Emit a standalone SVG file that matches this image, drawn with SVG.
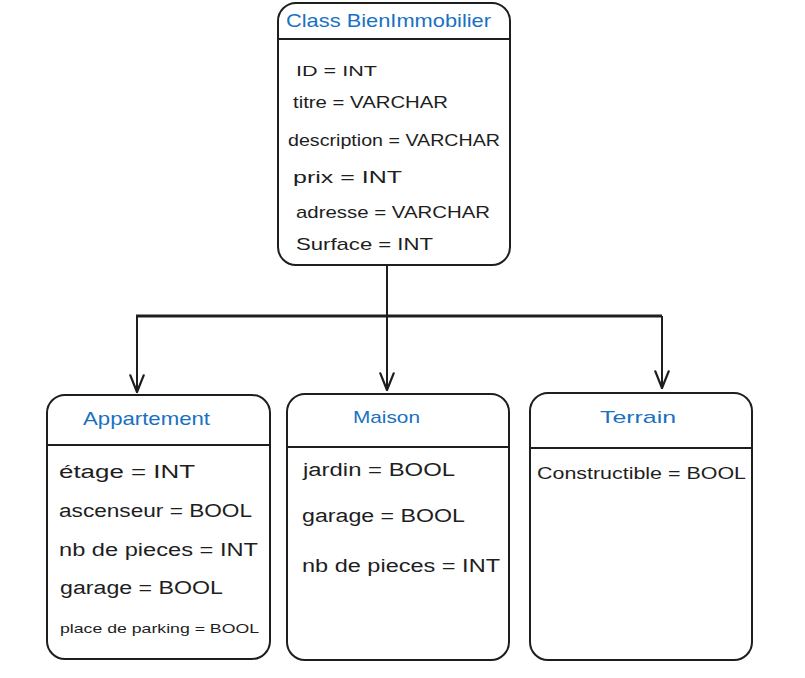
<svg xmlns="http://www.w3.org/2000/svg" width="805" height="678" viewBox="0 0 805 678">
<defs>
<style>
.box{fill:#ffffff;stroke:#1e1e1e;stroke-width:2}
.div{stroke:#1e1e1e;stroke-width:2}
.title{font-family:"Liberation Sans",Arial,sans-serif;fill:#1971c2;font-size:19px}
.attr{font-family:"Liberation Sans",Arial,sans-serif;fill:#1e1e1e;font-size:17px}
.conn{fill:none;stroke:#1e1e1e;stroke-width:2}
</style>
<marker id="arrow" markerWidth="20" markerHeight="20" viewBox="-16 -8 18 16" refX="0" refY="0" orient="auto" markerUnits="userSpaceOnUse">
<path d="M-15,-6 L0,0 L-15,6" fill="none" stroke="#1e1e1e" stroke-width="2" stroke-linecap="round" stroke-linejoin="round"/>
</marker>
</defs>
<rect width="805" height="678" fill="#ffffff"/>
<g id="connectors">
<path class="conn" d="M387,266 V390" marker-end="url(#arrow)"/>
<path class="conn" d="M136,316 H662" style="stroke-width:3"/>
<path class="conn" d="M137,316 V392" marker-end="url(#arrow)"/>
<path class="conn" d="M662,316 V388" marker-end="url(#arrow)"/>
</g>
<g id="BienImmobilier">
<rect class="box" x="278" y="3" width="232" height="262" rx="18"/>
<line class="div" x1="278" y1="39" x2="510" y2="39"/>
<text class="title" x="286" y="27" textLength="205" lengthAdjust="spacingAndGlyphs">Class BienImmobilier</text>
<text class="attr" x="296" y="76" style="font-size:15px" textLength="81" lengthAdjust="spacingAndGlyphs">ID = INT</text>
<text class="attr" x="293" y="108" textLength="155" lengthAdjust="spacingAndGlyphs">titre = VARCHAR</text>
<text class="attr" x="288" y="146" textLength="212" lengthAdjust="spacingAndGlyphs">description = VARCHAR</text>
<text class="attr" x="293" y="183" textLength="109" lengthAdjust="spacingAndGlyphs">prix = INT</text>
<text class="attr" x="296" y="218" textLength="194" lengthAdjust="spacingAndGlyphs">adresse = VARCHAR</text>
<text class="attr" x="296" y="250" textLength="137" lengthAdjust="spacingAndGlyphs">Surface = INT</text>
</g>
<g id="Appartement">
<rect class="box" x="47" y="395" width="223" height="264" rx="18"/>
<line class="div" x1="47" y1="445" x2="270" y2="445"/>
<text class="title" x="83" y="425" textLength="127" lengthAdjust="spacingAndGlyphs">Appartement</text>
<text class="attr" x="59" y="478" style="font-size:18px" textLength="136" lengthAdjust="spacingAndGlyphs">étage = INT</text>
<text class="attr" x="59" y="517" style="font-size:18px" textLength="193" lengthAdjust="spacingAndGlyphs">ascenseur = BOOL</text>
<text class="attr" x="59" y="556" style="font-size:18px" textLength="199" lengthAdjust="spacingAndGlyphs">nb de pieces = INT</text>
<text class="attr" x="60" y="594" style="font-size:18px" textLength="163" lengthAdjust="spacingAndGlyphs">garage = BOOL</text>
<text class="attr" x="60" y="633" style="font-size:13px" textLength="199" lengthAdjust="spacingAndGlyphs">place de parking = BOOL</text>
</g>
<g id="Maison">
<rect class="box" x="287" y="394" width="222" height="266" rx="18"/>
<line class="div" x1="287" y1="447" x2="509" y2="447"/>
<text class="title" x="353" y="423" style="font-size:17px" textLength="67" lengthAdjust="spacingAndGlyphs">Maison</text>
<text class="attr" x="303" y="476" style="font-size:18px" textLength="152" lengthAdjust="spacingAndGlyphs">jardin = BOOL</text>
<text class="attr" x="302" y="522" style="font-size:18px" textLength="163" lengthAdjust="spacingAndGlyphs">garage = BOOL</text>
<text class="attr" x="302" y="572" style="font-size:18px" textLength="198" lengthAdjust="spacingAndGlyphs">nb de pieces = INT</text>
</g>
<g id="Terrain">
<rect class="box" x="530" y="393" width="222" height="267" rx="18"/>
<line class="div" x1="530" y1="448" x2="752" y2="448"/>
<text class="title" x="600" y="423" style="font-size:17px" textLength="76" lengthAdjust="spacingAndGlyphs">Terrain</text>
<text class="attr" x="537" y="479" textLength="209" lengthAdjust="spacingAndGlyphs">Constructible = BOOL</text>
</g>
</svg>
